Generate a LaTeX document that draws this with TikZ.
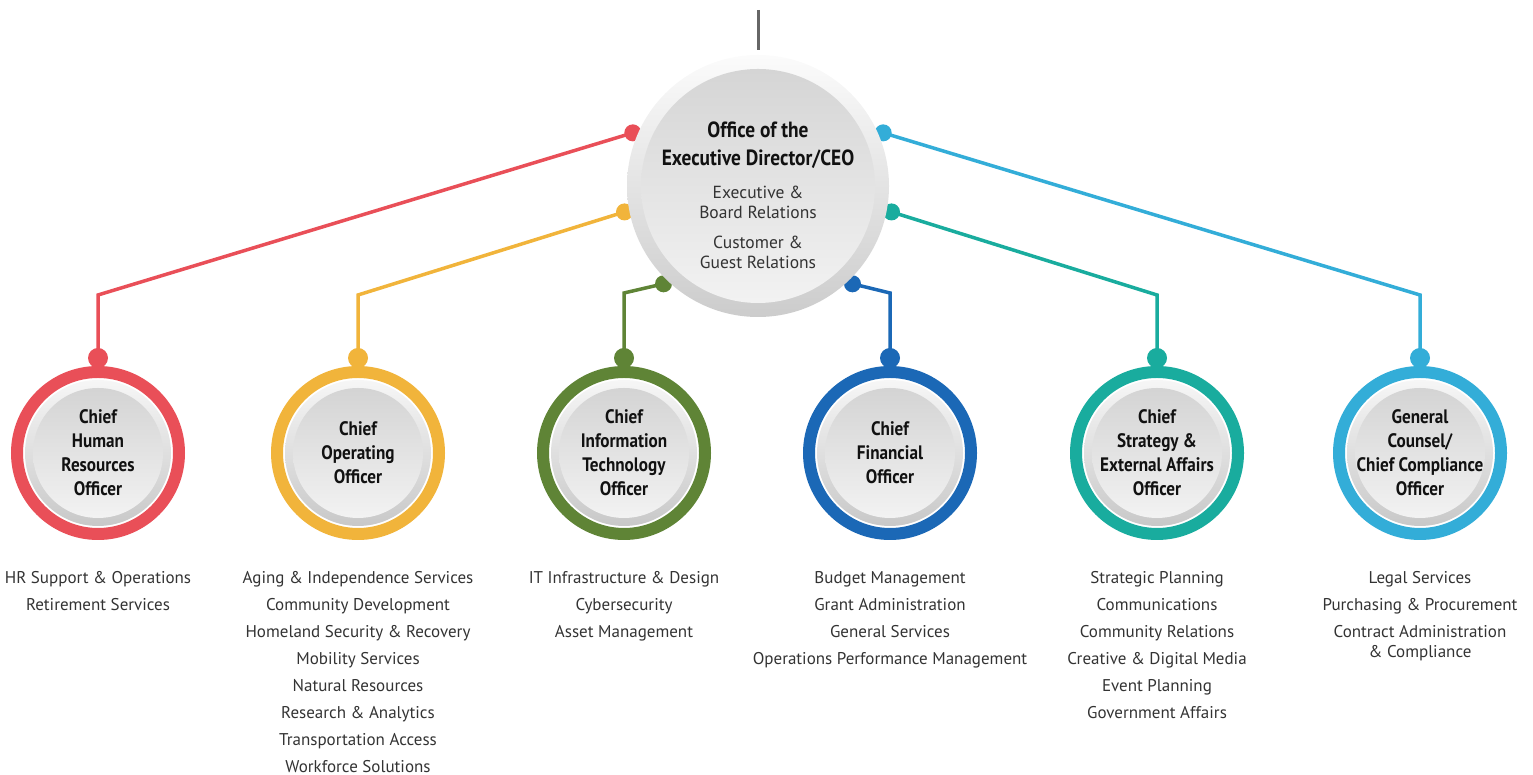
\documentclass[tikz,border=0pt]{standalone}
\usepackage{fontspec}
\setmainfont{PT Sans}
\newfontfamily\headfont[FakeStretch=0.88]{PT Sans}
\usetikzlibrary{positioning,backgrounds}

\definecolor{hrred}{HTML}{E94F58}
\definecolor{cooorange}{HTML}{F1B43B}
\definecolor{ciogreen}{HTML}{5F8436}
\definecolor{cfoblue}{HTML}{1B68B6}
\definecolor{cstteal}{HTML}{19AC9E}
\definecolor{gcblue}{HTML}{33ADD8}
\definecolor{listgray}{HTML}{333333}
\definecolor{headblack}{HTML}{111111}

\tikzset{
	office/.style={circle, minimum size=162pt, inner sep=0pt, draw=#1, line width=12pt, fill=white,
		text=headblack, align=center, font=\headfont\bfseries\fontsize{19.5}{24}\selectfont,
		path picture={
			\shade[top color=white!95!gray, bottom color=gray!45] (path picture bounding box.center) circle (73pt);
			\shade[top color=gray!34, bottom color=white!90!gray] (path picture bounding box.center) circle (65pt);
		}},
	link/.style={draw=#1, line width=3.5pt},
	knob/.style={fill=#1},
	duties/.style={inner sep=0pt, anchor=north, align=center, text=listgray, font=\fontsize{17}{27}\selectfont}
}

\begin{document}
\begin{tikzpicture}[x=1pt, y=1pt]
		\useasboundingbox (0,0) rectangle (1533,775);
		
		% top office
		\node[circle, minimum size=262pt, inner sep=0pt, outer sep=5pt,
			path picture={
				\shade[top color=white!97!gray, bottom color=gray!40] (path picture bounding box.center) circle (131pt);
				\shade[top color=gray!33, bottom color=white!90!gray] (path picture bounding box.center) circle (117pt);
			}] (ceo) at (758,589) {};
		\node[align=center, text=headblack, font=\headfont\bfseries\fontsize{22}{28}\selectfont] (ceohead) at ([yshift=41pt]ceo.center) {Office of the\\Executive Director/CEO};
		\node[align=center, text=listgray, font=\fontsize{17.5}{20}\selectfont] (ceosub) at ([yshift=-41pt]ceo.center) {Executive \&\\Board Relations\\[10pt]Customer \&\\Guest Relations};
		\coordinate (feed) at (758,765);
		\draw[line width=3pt, gray!80!black] (feed) -- (ceo.north);
		
		% officers
		\node[office=hrred] (hr) at (98,322) {Chief\\Human\\Resources\\Officer};
		\node[office=cooorange] (coo) at (358,322) {Chief\\Operating\\Officer};
		\node[office=ciogreen] (cio) at (624,322) {Chief\\Information\\Technology\\Officer};
		\node[office=cfoblue] (cfo) at (890,322) {Chief\\Financial\\Officer};
		\node[office=cstteal] (cso) at (1157,322) {Chief\\Strategy \&\\External Affairs\\Officer};
		\node[office=gcblue] (gc) at (1420,322) {General\\Counsel/\\Chief Compliance\\Officer};
		
		% links, kept under the circles
		\begin{scope}[on background layer]
		\draw[link=hrred] (ceo.157) -- ([yshift=71pt]hr.north) -- (hr.north);
		\draw[link=cooorange] (ceo.191) -- ([yshift=71pt]coo.north) -- (coo.north);
		\draw[link=ciogreen] (ceo.226) -- ([yshift=73pt]cio.north) -- (cio.north);
		\draw[link=cfoblue] (ceo.314) -- ([yshift=73pt]cfo.north) -- (cfo.north);
		\draw[link=cstteal] (ceo.349) -- ([yshift=71pt]cso.north) -- (cso.north);
		\draw[link=gcblue] (ceo.23) -- ([yshift=71pt]gc.north) -- (gc.north);
		
		\fill[knob=hrred] (ceo.157) circle (8.5pt);
		\fill[knob=cooorange] (ceo.191) circle (8.5pt);
		\fill[knob=ciogreen] (ceo.226) circle (8.5pt);
		\fill[knob=cfoblue] (ceo.314) circle (8.5pt);
		\fill[knob=cstteal] (ceo.349) circle (8.5pt);
		\fill[knob=gcblue] (ceo.23) circle (8.5pt);
		\end{scope}
		
		\fill[knob=hrred] ([yshift=8pt]hr.north) circle (10pt);
		\fill[knob=cooorange] ([yshift=8pt]coo.north) circle (10pt);
		\fill[knob=ciogreen] ([yshift=8pt]cio.north) circle (10pt);
		\fill[knob=cfoblue] ([yshift=8pt]cfo.north) circle (10pt);
		\fill[knob=cstteal] ([yshift=8pt]cso.north) circle (10pt);
		\fill[knob=gcblue] ([yshift=8pt]gc.north) circle (10pt);
		
		% what each office runs
		\node[duties, below=31pt of hr] (hrlist) {HR Support \& Operations\\Retirement Services};
		\node[duties, below=31pt of coo] (coolist) {Aging \& Independence Services\\Community Development\\Homeland Security \& Recovery\\Mobility Services\\Natural Resources\\Research \& Analytics\\Transportation Access\\Workforce Solutions};
		\node[duties, below=31pt of cio] (ciolist) {IT Infrastructure \& Design\\Cybersecurity\\Asset Management};
		\node[duties, below=31pt of cfo] (cfolist) {Budget Management\\Grant Administration\\General Services\\Operations Performance Management};
		\node[duties, below=31pt of cso] (csolist) {Strategic Planning\\Communications\\Community Relations\\Creative \& Digital Media\\Event Planning\\Government Affairs};
		\node[duties, below=31pt of gc] (gclist) {Legal Services\\Purchasing \& Procurement\\Contract Administration\\[-7pt]\& Compliance};
		\end{tikzpicture}
\end{document}
